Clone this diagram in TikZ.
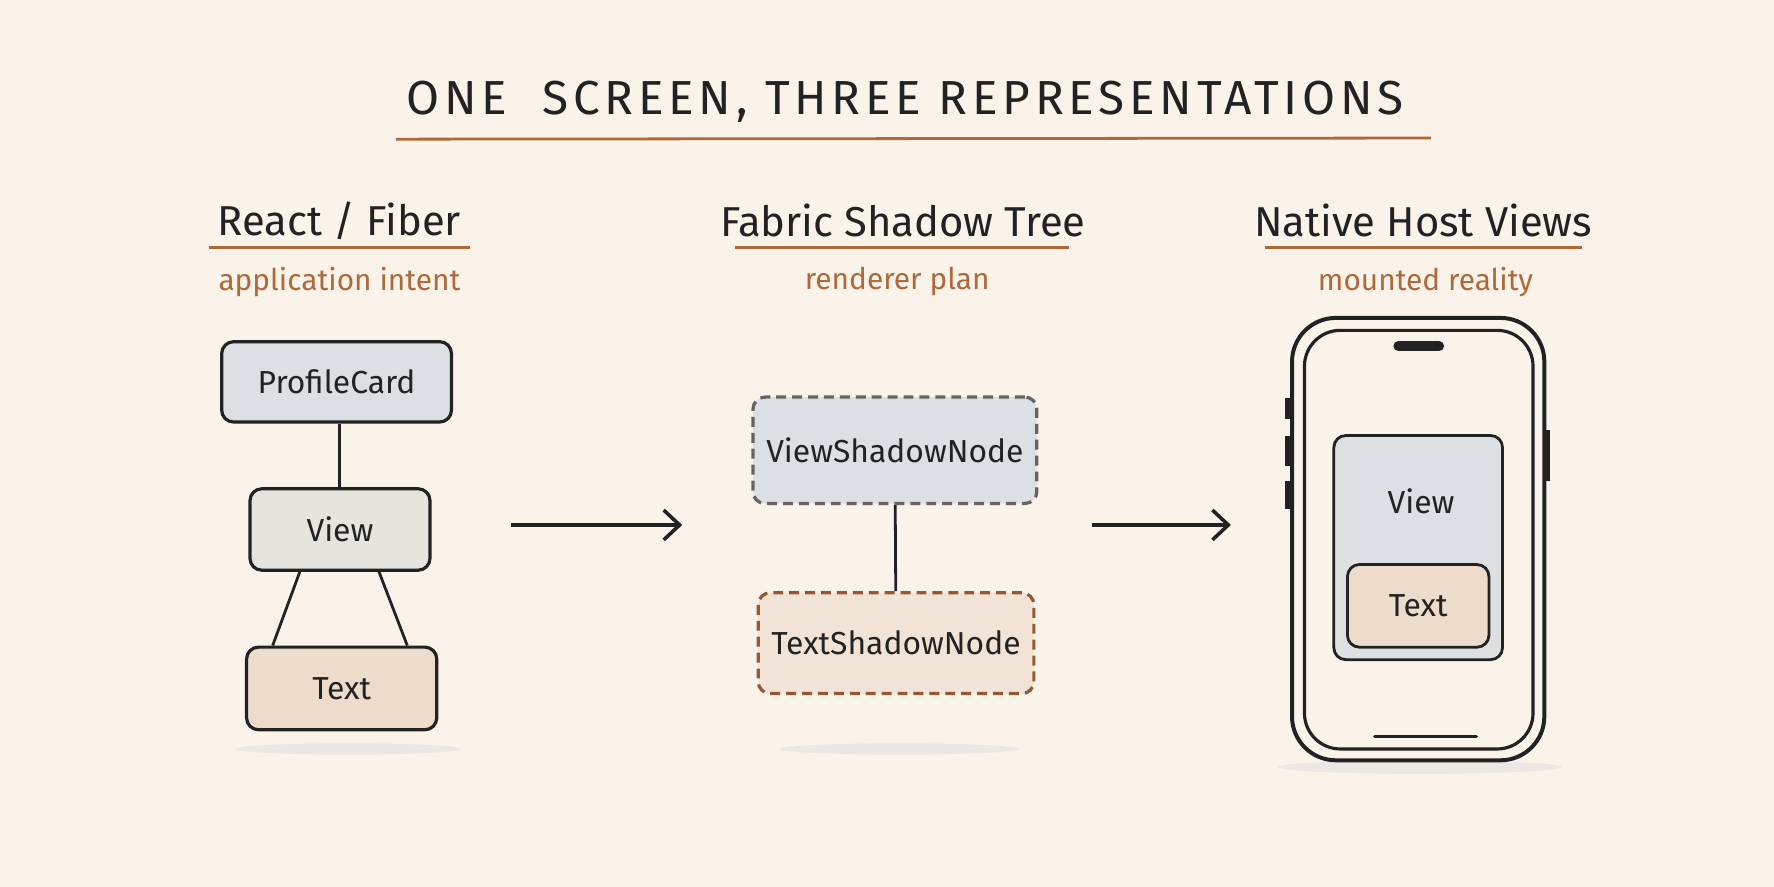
\documentclass[tikz,border=0pt]{standalone}
\usepackage{fontspec}
\setmainfont{Fira Sans}
\usetikzlibrary{arrows.meta}
\definecolor{paper}{HTML}{FAF3EA}
\definecolor{rust}{HTML}{B0683A}
\definecolor{ink}{HTML}{222222}
\definecolor{bluegray}{HTML}{DDE0E2}
\definecolor{graybox}{HTML}{E6E5DD}
\definecolor{beige}{HTML}{EDDCCB}
\tikzset{
  box/.style={draw=ink, line width=0.8pt, rounded corners=3pt, font=\fontsize{8}{10}\selectfont, text=ink},
  dbox/.style={box, dashed, dash pattern=on 2.5pt off 1.5pt},
  head/.style={font=\fontsize{10.5}{12}\selectfont, text=ink},
  sub/.style={font=\fontsize{7.5}{9}\selectfont, text=rust},
  rule/.style={draw=rust, line width=0.7pt},
  link/.style={draw=ink, line width=0.7pt},
  flow/.style={draw=ink, line width=0.9pt, -{Straight Barb[length=4pt,width=7.5pt]}},
  shade/.style={fill=black!12, opacity=0.6},
}
\begin{document}
\begin{tikzpicture}[x=0.01cm, y=-0.01cm]
\fill[paper] (0,0) rectangle (1568,784);
% title
\node[font=\fontsize{12}{14}\selectfont\addfontfeature{LetterSpace=10}, text=ink] (title) at (800,90) {ONE\ \ SCREEN, THREE REPRESENTATIONS};
\draw[rule] (350,123) -- (1265,122);
% column heads
\node[head] (hreact) at (300,195) {React / Fiber};
\draw[rule] (185,219) -- (415,219);
\node[sub] (sreact) at (300,249) {application intent};
\node[head] (hfabric) at (798,195) {Fabric Shadow Tree};
\draw[rule] (650,219) -- (945,219);
\node[sub] (sfabric) at (793,249) {renderer plan};
\node[head] (hnative) at (1258,195) {Native Host Views};
\draw[rule] (1118,219) -- (1398,219);
\node[sub] (snative) at (1260,249) {mounted reality};
% react tree
\fill[shade] (308,662) ellipse (100 and 5);
\node[box, fill=bluegray, minimum width=2.03cm, minimum height=0.71cm] (card) at (297.5,337.5) {ProfileCard};
\node[box, fill=graybox, minimum width=1.59cm, minimum height=0.72cm] (view) at (300.5,468) {View};
\node[box, fill=beige, minimum width=1.68cm, minimum height=0.73cm] (text) at (302,608.5) {Text};
\draw[link] (card.south -| 300,0) -- (view.north -| 300,0);
\draw[link] (view.south -| 265,0) -- (text.north -| 241,0);
\draw[link] (view.south -| 335,0) -- (text.north -| 360,0);
\coordinate (a1s) at (452,464);
\coordinate (a1e) at (603,464);
\draw[flow] (a1s) -- (a1e);
% fabric tree
\fill[shade] (795,662) ellipse (105 and 5);
\node[dbox, draw=ink!70, fill=bluegray, minimum width=2.38cm, minimum height=0.94cm] (vsn) at (791,398) {ViewShadowNode};
\node[dbox, draw=rust!85!black, fill=beige!80, minimum width=2.16cm, minimum height=0.89cm] (tsn) at (792,568.5) {TextShadowNode};
\draw[link] (vsn) -- (tsn);
\coordinate (a2s) at (965,464);
\coordinate (a2e) at (1088,464);
\draw[flow] (a2s) -- (a2e);
% phone
\fill[shade] (1255,678) ellipse (125 and 6);
\draw[ink, line width=1pt, rounded corners=11pt, fill=paper] (1142,281) rectangle (1365,672);
\draw[ink, line width=0.8pt, rounded corners=9pt] (1153,292) rectangle (1355,662);
\draw[ink, line width=2.5pt, line cap=round] (1236,306) -- (1272,306);
\draw[ink, line width=0.8pt, line cap=round] (1215,651) -- (1305,651);
\foreach \ya/\yb in {352/370, 385/412, 425/450}
  \draw[ink, line width=1.6pt] (1139,\ya) -- (1139,\yb);
\draw[ink, line width=1.6pt] (1367,380) -- (1367,425);
\node[box, line width=0.7pt, fill=bluegray, minimum width=1.49cm, minimum height=1.98cm] (hview) at (1253.5,484) {};
\node[font=\fontsize{8}{10}\selectfont, text=ink] (hviewlbl) at (1256,443) {View};
\node[box, line width=0.7pt, fill=beige, minimum width=1.25cm, minimum height=0.73cm] (htext) at (1253.5,535.5) {Text};
\end{tikzpicture}
\end{document}
